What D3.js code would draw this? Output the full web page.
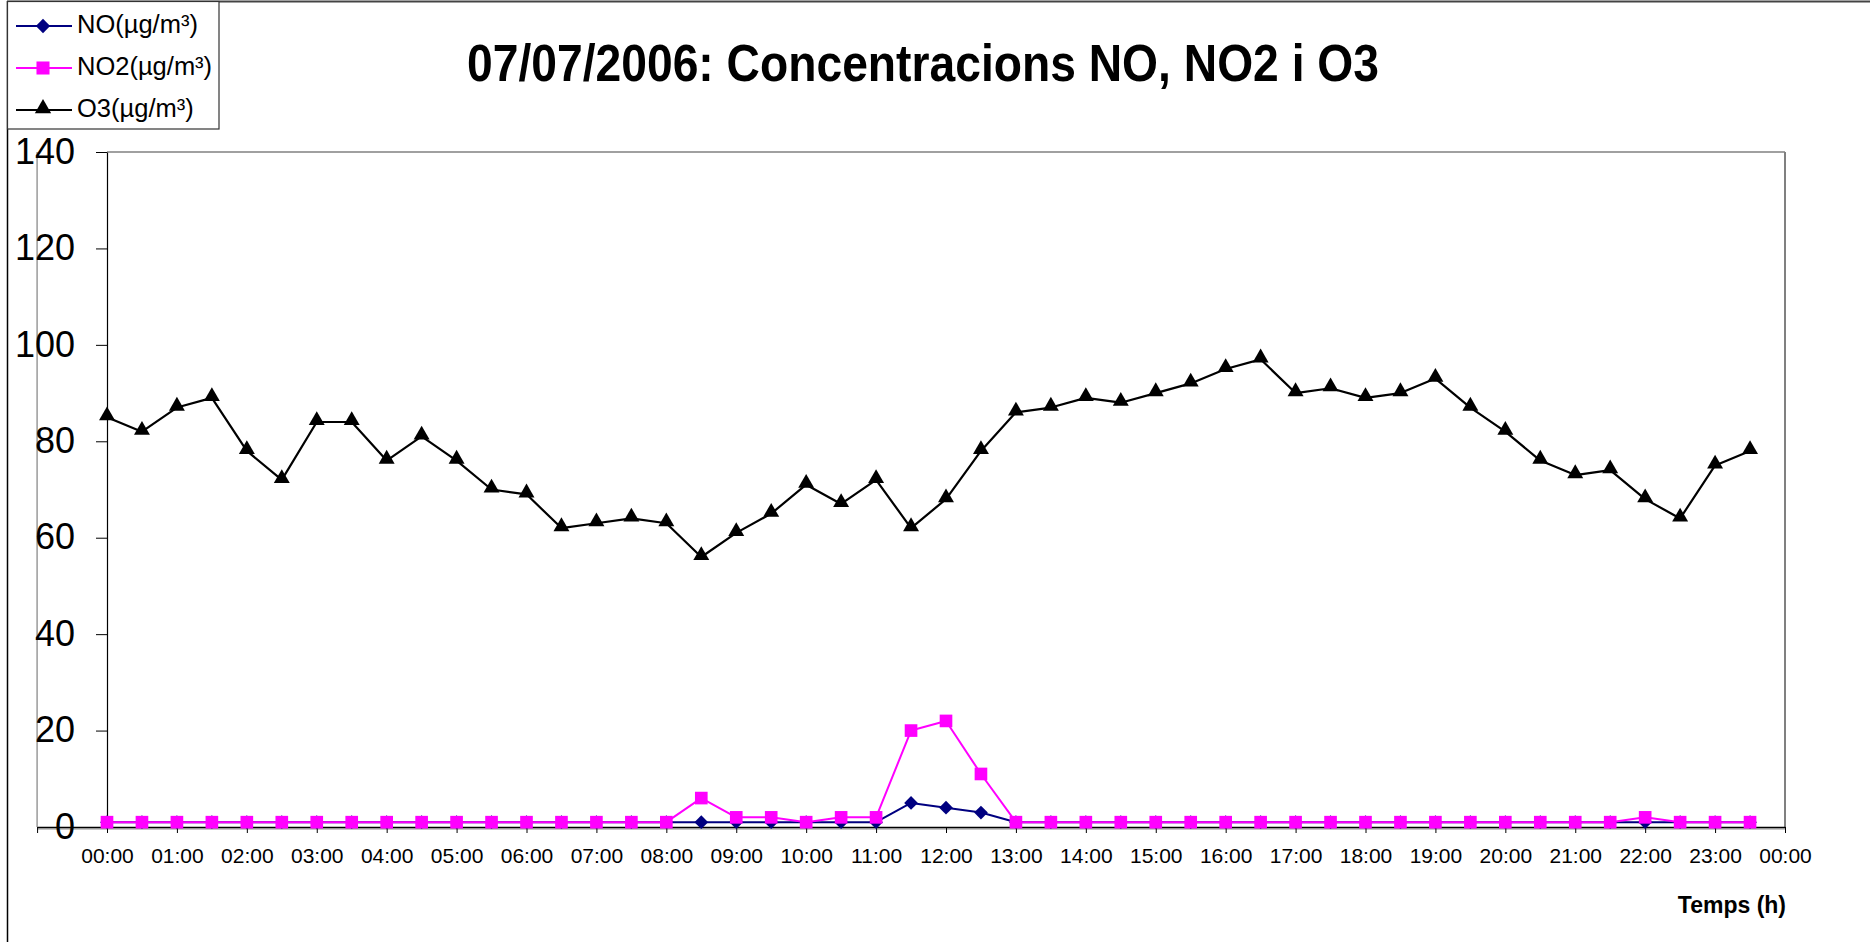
<!DOCTYPE html>
<html>
<head>
<meta charset="utf-8">
<script src="https://cdn.jsdelivr.net/npm/d3@7"></script>
<style>
  html, body { margin: 0; padding: 0; background: #fff; }
  svg { display: block; }
  text { font-family: "Liberation Sans", Arial, sans-serif; }
</style>
</head>
<body>
<svg id="chart" width="1870" height="942"></svg>
<script>
// ---------- DATA ----------
const times = ["00:00","00:30","01:00","01:30","02:00","02:30","03:00","03:30","04:00","04:30","05:00","05:30",
  "06:00","06:30","07:00","07:30","08:00","08:30","09:00","09:30","10:00","10:30","11:00","11:30",
  "12:00","12:30","13:00","13:30","14:00","14:30","15:00","15:30","16:00","16:30","17:00","17:30",
  "18:00","18:30","19:00","19:30","20:00","20:30","21:00","21:30","22:00","22:30","23:00","23:30"];
const noValues  = [1,1,1,1,1,1,1,1,1,1,1,1, 1,1,1,1,1,1,1,1,1,1,1,5, 4,3,1,1,1,1,1,1,1,1,1,1, 1,1,1,1,1,1,1,1,1,1,1,1];
const no2Values = [1,1,1,1,1,1,1,1,1,1,1,1, 1,1,1,1,1,6,2,2,1,2,2,20, 22,11,1,1,1,1,1,1,1,1,1,1, 1,1,1,1,1,1,1,1,2,1,1,1];
const o3Values  = [85,82,87,89,78,72,84,84,76,81,76,70, 69,62,63,64,63,56,61,65,71,67,72,62,
  68,78,86,87,89,88,90,92,95,97,90,91, 89,90,93,87,82,76,73,74,68,64,75,78];
const tickLabels = ["00:00","01:00","02:00","03:00","04:00","05:00","06:00","07:00","08:00","09:00","10:00","11:00",
  "12:00","13:00","14:00","15:00","16:00","17:00","18:00","19:00","20:00","21:00","22:00","23:00","00:00"];
const yTicks = [0,20,40,60,80,100,120,140];
const seriesNames = ["NO(µg/m³)","NO2(µg/m³)","O3(µg/m³)"];
const titleText = "07/07/2006: Concentracions NO, NO2 i O3";
const xTitle = "Temps (h)";

// ---------- LAYOUT ----------
const svg = d3.select("#chart");
const plotL = 107, plotR = 1785, plotT = 152, plotB = 827;
const hours = times.map(t => { const [h, m] = t.split(":").map(Number); return h + m / 60; });

const x = d3.scaleLinear().domain([-1, 24]).range([plotL - (plotR - plotL) / 24, plotR]);
const y = d3.scaleLinear().domain([0, 140]).range([plotB, plotT]);

// outer chart border (partially visible)
svg.append("line").attr("x1", 7.5).attr("x2", 7.5).attr("y1", 1).attr("y2", 942)
  .attr("stroke", "#000").attr("stroke-width", 1.5);
svg.append("line").attr("x1", 7).attr("x2", 1870).attr("y1", 1.5).attr("y2", 1.5)
  .attr("stroke", "#444").attr("stroke-width", 2);

// plot-area border (gray)
svg.append("line").attr("x1", plotL).attr("x2", plotR).attr("y1", plotT).attr("y2", plotT)
  .attr("stroke", "#808080").attr("stroke-width", 1.5);
svg.append("line").attr("x1", plotR).attr("x2", plotR).attr("y1", plotT).attr("y2", plotB)
  .attr("stroke", "#808080").attr("stroke-width", 2);
svg.append("line").attr("x1", x(-1)).attr("x2", x(-1)).attr("y1", plotT).attr("y2", plotB)
  .attr("stroke", "#808080").attr("stroke-width", 1.2);
svg.append("line").attr("x1", x(-1)).attr("x2", plotR).attr("y1", plotB + 2).attr("y2", plotB + 2)
  .attr("stroke", "#909090").attr("stroke-width", 1);

// x axis
const xAxis = d3.axisBottom(x)
  .tickValues(d3.range(-1, 25))
  .tickSize(6).tickSizeOuter(0).tickPadding(15)
  .tickFormat(d => d >= 0 ? tickLabels[d] : "");
const gx = svg.append("g").attr("transform", `translate(0,${plotB})`).call(xAxis);
gx.select(".domain").attr("stroke", "#000").attr("stroke-width", 1.5);
gx.selectAll(".tick line").attr("stroke", "#000").attr("stroke-width", 1);
gx.selectAll(".tick text").attr("font-size", 21).attr("fill", "#000")
  .attr("font-family", "'Liberation Sans', Arial, sans-serif");

// y axis
const yAxis = d3.axisLeft(y).tickValues(yTicks).tickSize(11).tickSizeOuter(0).tickPadding(21);
const gy = svg.append("g").attr("transform", `translate(${plotL},0)`).call(yAxis);
gy.select(".domain").attr("stroke", "#000").attr("stroke-width", 1.2);
gy.selectAll(".tick line").attr("stroke", "#000").attr("stroke-width", 1);
gy.selectAll(".tick text").attr("font-size", 36).attr("fill", "#000").attr("dy", "0.31em")
  .attr("font-family", "'Liberation Sans', Arial, sans-serif");

// ---------- SERIES ----------
const symDiamond = d3.symbol().type(d3.symbolDiamond2).size(120);
const symSquare = d3.symbol().type(d3.symbolSquare).size(160);
const symTri = d3.symbol().type(d3.symbolTriangle).size(110);

const series = [
  { name: seriesNames[0], values: noValues,  color: "#000080", sym: symDiamond, width: 2,   yOff: 0 },
  { name: seriesNames[1], values: no2Values, color: "#FF00FF", sym: symSquare,  width: 2,   yOff: 0 },
  { name: seriesNames[2], values: o3Values,  color: "#000000", sym: symTri,     width: 2.2, yOff: 1.5 }
];

const line = d3.line().x((d, i) => x(hours[i])).y(d => y(d));

series.forEach(s => {
  const g = svg.append("g");
  g.append("path").datum(s.values).attr("d", line)
    .attr("fill", "none").attr("stroke", s.color).attr("stroke-width", s.width)
    .attr("stroke-linejoin", "round");
  g.selectAll("path.m").data(s.values).enter().append("path").attr("class", "m")
    .attr("d", s.sym())
    .attr("transform", (d, i) => `translate(${x(hours[i])},${y(d) - s.yOff})`)
    .attr("fill", s.color);
});

// ---------- TITLES ----------
svg.append("text").attr("x", 923).attr("y", 81).attr("text-anchor", "middle")
  .attr("font-size", 52).attr("font-weight", "bold").attr("fill", "#000")
  .attr("textLength", 912).attr("lengthAdjust", "spacingAndGlyphs")
  .text(titleText);

svg.append("text").attr("x", 1786).attr("y", 913).attr("text-anchor", "end")
  .attr("font-size", 23).attr("font-weight", "bold").attr("fill", "#000")
  .text(xTitle);

// ---------- LEGEND ----------
const lg = svg.append("g");
lg.append("rect").attr("x", 7.5).attr("y", 1.5).attr("width", 211.5).attr("height", 127.5)
  .attr("fill", "#fff").attr("stroke", "#333").attr("stroke-width", 1.2);
const legendSyms = [d3.symbol().type(d3.symbolDiamond2).size(130), d3.symbol().type(d3.symbolSquare).size(170), d3.symbol().type(d3.symbolTriangle).size(115)];
series.forEach((s, i) => {
  const cy = 26 + i * 42;
  lg.append("line").attr("x1", 16).attr("x2", 72).attr("y1", cy).attr("y2", cy)
    .attr("stroke", s.color).attr("stroke-width", 2);
  lg.append("path").attr("d", legendSyms[i]()).attr("transform", `translate(43,${cy - s.yOff})`)
    .attr("fill", s.color);
  lg.append("text").attr("x", 77).attr("y", cy + 7).attr("font-size", 25.5).attr("fill", "#000")
    .text(s.name);
});
</script>
</body>
</html>
